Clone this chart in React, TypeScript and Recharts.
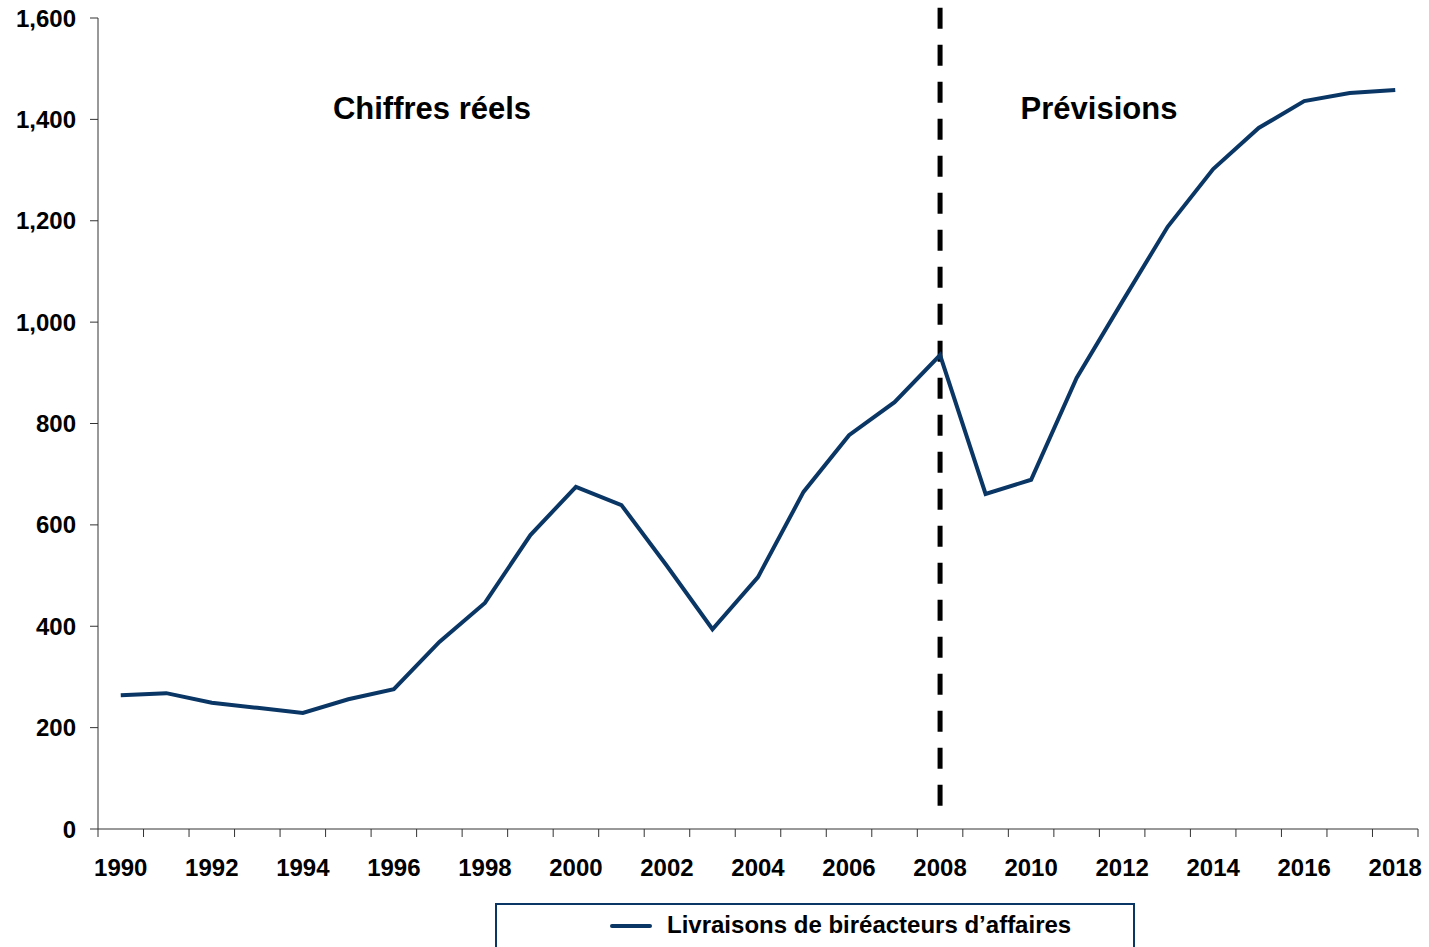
import { LineChart, Line, XAxis, YAxis, ReferenceLine, Legend, Customized } from 'recharts';

const years = [
  1990, 1991, 1992, 1993, 1994, 1995, 1996, 1997, 1998, 1999,
  2000, 2001, 2002, 2003, 2004, 2005, 2006, 2007, 2008, 2009,
  2010, 2011, 2012, 2013, 2014, 2015, 2016, 2017, 2018,
];
const deliveries = [
  264, 268, 249, 239, 229, 256, 276, 369, 446, 580,
  675, 639, 519, 394, 497, 665, 777, 842, 935, 661,
  689, 890, 1040, 1188, 1302, 1383, 1436, 1452, 1458,
];
const yTicks = [0, 200, 400, 600, 800, 1000, 1200, 1400, 1600];
const labelYears = [1990, 1992, 1994, 1996, 1998, 2000, 2002, 2004, 2006, 2008, 2010, 2012, 2014, 2016, 2018];
const seriesName = 'Livraisons de biréacteurs d’affaires';
const forecastStart = 2008;

const data = years.map((y, i) => ({ year: y, value: deliveries[i] }));
// tick marks sit on the band edges, labels on every other year
const boundaries = [...years.map((y) => y - 0.5), years[years.length - 1] + 0.5];
const xTicks = [...boundaries, ...labelYears].sort((a, b) => a - b);

const font = '"Liberation Sans", Arial, sans-serif';
const navy = '#0a3665';

const XTick = (props: any) => {
  const { x, y, payload } = props;
  const v = payload.value;
  if (v % 1 !== 0) {
    return <line x1={x} x2={x} y1={y} y2={y + 8} stroke="#333" strokeWidth={1} />;
  }
  return (
    <text x={x} y={y + 30} dy="0.71em" textAnchor="middle" fontFamily={font} fontWeight="bold" fontSize={24} fill="#000">
      {v}
    </text>
  );
};

const Notes = () => (
  <g fontFamily={font} fontWeight="bold" fontSize={31} fill="#000" textAnchor="middle">
    <text x={432} y={119}>Chiffres réels</text>
    <text x={1099} y={119}>Prévisions</text>
  </g>
);

const LegendBox = () => (
  <div
    style={{
      width: 640,
      height: 60,
      boxSizing: 'border-box',
      border: `2px solid ${navy}`,
      position: 'relative',
      fontFamily: font,
      fontWeight: 'bold',
      fontSize: 24,
    }}
  >
    <div style={{ position: 'absolute', left: 113, top: 19, width: 42, height: 4, background: navy, borderRadius: 2 }} />
    <div style={{ position: 'absolute', left: 170, top: 6, lineHeight: '28px', whiteSpace: 'nowrap' }}>{seriesName}</div>
  </div>
);

export default function App() {
  return (
    <div style={{ position: 'absolute', left: 0, top: 0 }}>
      <LineChart width={1429} height={947} data={data} margin={{ top: 18, right: 11, left: 0, bottom: 58 }}>
        <XAxis
          dataKey="year"
          type="number"
          domain={[1989.5, 2018.5]}
          ticks={xTicks}
          interval={0}
          tick={<XTick />}
          tickLine={false}
          tickSize={0}
          tickMargin={0}
          height={60}
          stroke="#333"
          allowDataOverflow
        />
        <YAxis
          domain={[0, 1600]}
          ticks={yTicks}
          width={98}
          tickSize={8}
          tickMargin={14}
          stroke="#333"
          tick={{ fill: '#000', fontFamily: font, fontWeight: 'bold', fontSize: 24 }}
          tickFormatter={(v: number) => v.toLocaleString('en-US')}
        />
        <ReferenceLine
          segment={[{ x: forecastStart, y: 1620 }, { x: forecastStart, y: 28 }]}
          ifOverflow="visible"
          stroke="#000"
          strokeWidth={5}
          strokeDasharray="21 16"
        />
        <Line
          type="linear"
          dataKey="value"
          name={seriesName}
          stroke={navy}
          strokeWidth={4}
          dot={false}
          isAnimationActive={false}
        />
        <Customized component={<Notes />} />
        <Legend
          layout="horizontal"
          verticalAlign="middle"
          align="center"
          content={<LegendBox />}
          wrapperStyle={{ left: 495, top: 903, width: 640, height: 60 }}
        />
      </LineChart>
    </div>
  );
}
